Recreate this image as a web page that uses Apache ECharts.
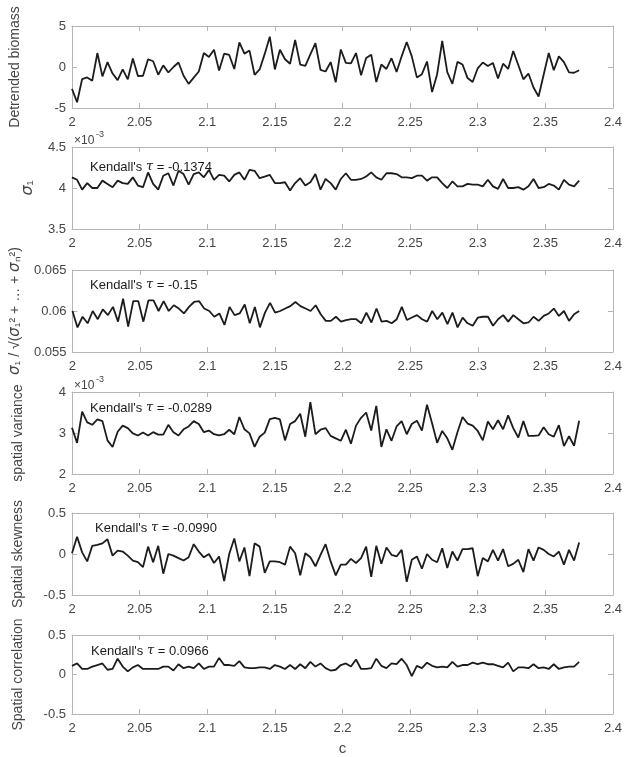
<!DOCTYPE html>
<html>
<head>
<meta charset="utf-8">
<script src="https://cdn.jsdelivr.net/npm/echarts@6/dist/echarts.min.js"></script>
<style>
html,body{margin:0;padding:0;background:#fff;}
#chart{width:625px;height:757px;}
</style>
</head>
<body>
<div id="chart"></div>
<script>
// ---- data ----
const cValues = [2,2.00375,2.0075,2.01125,2.015,2.01875,2.0225,2.02625,2.03,2.03375,
2.0375,2.04125,2.045,2.04875,2.0525,2.05625,2.06,2.06375,2.0675,2.07125,
2.075,2.07875,2.0825,2.08625,2.09,2.09375,2.0975,2.10125,2.105,2.10875,
2.1125,2.11625,2.12,2.12375,2.1275,2.13125,2.135,2.13875,2.1425,2.14625,
2.15,2.15375,2.1575,2.16125,2.165,2.16875,2.1725,2.17625,2.18,2.18375,
2.1875,2.19125,2.195,2.19875,2.2025,2.20625,2.21,2.21375,2.2175,2.22125,
2.225,2.22875,2.2325,2.23625,2.24,2.24375,2.2475,2.25125,2.255,2.25875,
2.2625,2.26625,2.27,2.27375,2.2775,2.28125,2.285,2.28875,2.2925,2.29625,
2.3,2.30375,2.3075,2.31125,2.315,2.31875,2.3225,2.32625,2.33,2.33375,
2.3375,2.34125,2.345,2.34875,2.3525,2.35625,2.36,2.36375,2.3675,2.37125,
2.375];

const detrendedBiomass = [-2.66,-4.3,-1.47,-1.27,-1.67,1.7,-1.15,0.6,-0.8,-1.6,
-0.3,-1.5,1.03,-1.1,-1.07,0.95,0.7,-0.95,0.2,-0.67,
0,0.55,-1.07,-2.06,-1.3,-0.55,1.7,1.23,2.1,-0.44,
1.63,1.47,-0.24,3.0,1.63,2.0,-0.95,-0.3,1.6,3.7,
-0.3,2.1,0.95,0.4,3.3,0.3,0.15,1.55,2.9,-0.36,
-0.55,0.6,-1.87,2.14,0.5,0.44,1.7,-1.0,1.1,1.5,
-1.83,0.3,-0.24,1.07,-0.6,1.3,3.05,1.3,-1.27,-0.87,
0.67,-3.05,-0.87,3.17,-0.63,-2.06,0.63,0.3,-1.35,-1.83,
-0.16,0.55,0.12,0.5,-1.4,0.4,-0.24,1.95,0.24,-1.5,
-0.8,-2.5,-3.6,-0.95,1.7,-0.4,1.3,0.6,-0.65,-0.7,
-0.4];

// sigma_1, in units of 1e-3
const sigma1 = [4.13,4.10,3.98,4.06,4.0,4.0,4.09,4.05,4.01,4.09,
4.06,4.05,4.13,4.03,4.01,4.19,4.05,3.98,4.15,4.18,
4.03,4.21,4.17,4.04,4.17,4.19,4.13,4.22,4.10,4.16,
4.15,4.08,4.16,4.19,4.10,4.22,4.21,4.12,4.14,4.16,
4.06,4.06,4.07,3.97,4.06,4.12,4.03,4.07,4.17,3.98,
4.11,4.06,3.98,4.11,4.18,4.10,4.10,4.11,4.14,4.19,
4.13,4.10,4.18,4.18,4.17,4.13,4.13,4.12,4.15,4.15,
4.09,4.13,4.13,4.06,4.0,4.08,4.02,4.02,4.05,4.04,
4.04,4.02,4.10,4.02,3.99,4.11,4.0,4.0,4.01,3.98,
4.02,4.11,4.0,4.01,4.05,4.03,3.98,4.10,4.04,4.02,
4.09];

const sigmaRatio = [0.0600,0.0580,0.0593,0.0585,0.0600,0.0590,0.0602,0.0595,0.0605,0.0587,
0.0615,0.0581,0.0612,0.0612,0.0587,0.0613,0.0613,0.0600,0.0612,0.0600,
0.0607,0.0603,0.0597,0.0605,0.0611,0.0612,0.0603,0.0600,0.0593,0.0597,
0.0583,0.0605,0.0595,0.0597,0.0608,0.0585,0.0605,0.0580,0.0598,0.0610,
0.0598,0.0600,0.0603,0.0606,0.0611,0.0606,0.0603,0.0600,0.0607,0.0596,
0.0588,0.0588,0.0593,0.0587,0.0589,0.0590,0.0590,0.0585,0.0598,0.0586,
0.0603,0.0587,0.0588,0.0585,0.0590,0.0605,0.0589,0.0592,0.0595,0.0590,
0.0587,0.0600,0.0590,0.0598,0.0584,0.0598,0.0580,0.0592,0.0585,0.0582,
0.0592,0.0593,0.0593,0.0582,0.0590,0.0595,0.0587,0.0595,0.0590,0.0585,
0.0586,0.0593,0.0588,0.0594,0.0597,0.0603,0.0594,0.0600,0.0588,0.0596,
0.0600];

// spatial variance, in units of 1e-3
const spatialVariance = [3.13,2.76,3.52,3.26,3.2,3.33,3.29,2.82,2.66,3.03,
3.18,3.12,2.99,2.94,3.01,2.94,3.02,2.96,2.96,3.2,
3.02,2.94,3.09,3.16,3.29,3.22,3.02,3.06,2.97,2.94,
2.97,3.08,2.97,3.39,3.09,2.99,2.66,2.91,3.01,3.34,
3.37,3.33,2.82,3.22,3.29,3.47,2.91,3.75,2.97,3.08,
3.12,2.93,2.87,2.81,3.08,2.74,3.18,3.37,3.5,3.06,
3.66,2.66,3.09,2.81,3.16,3.29,2.97,3.22,3.3,3.06,
3.69,3.24,2.76,3.05,2.87,2.59,3.02,3.39,3.23,3.18,
3.05,2.82,3.28,3.09,3.31,3.09,3.43,3.12,2.89,3.29,
2.93,2.93,2.94,3.14,2.97,2.91,3.19,2.68,2.92,2.69,
3.3];

const spatialSkewness = [0.01,0.21,0.02,-0.09,0.1,0.11,0.13,0.18,-0.02,0.04,
0.03,-0.02,-0.08,-0.1,-0.16,0.09,-0.1,0.1,-0.24,0,
-0.02,-0.05,-0.08,-0.04,0.12,0.03,-0.04,0,-0.11,-0.03,
-0.33,0,0.19,-0.09,0.08,-0.27,0.13,0.09,-0.23,-0.09,
-0.09,-0.1,-0.13,0.09,0.01,-0.26,0.01,-0.04,-0.15,-0.01,
0.12,-0.09,-0.26,-0.13,-0.13,-0.06,-0.11,-0.05,0.09,-0.28,
0.1,-0.12,0.08,-0.01,-0.03,0.05,-0.34,-0.07,-0.03,-0.18,
0,-0.07,-0.1,0.07,-0.17,0.03,-0.08,0.06,0.06,0.07,
-0.27,-0.05,-0.09,0.05,-0.08,0.06,-0.15,-0.12,-0.07,-0.22,
0.06,-0.08,0.08,0.05,0.0,-0.03,0.03,-0.13,0.05,-0.08,
0.14];

const spatialCorrelation = [0.11,0.14,0.07,0.07,0.10,0.12,0.14,0.06,0.07,0.2,
0.10,0.04,0.09,0.12,0.07,0.07,0.07,0.07,0.10,0.10,
0.05,0.13,0.08,0.10,0.08,0.14,0.07,0.10,0.10,0.21,
0.12,0.12,0.11,0.17,0.09,0.08,0.08,0.09,0.09,0.07,
0.12,0.10,0.07,0.12,0.07,0.13,0.08,0.16,0.10,0.14,
0.08,0.05,0.06,0.12,0.14,0.10,0.19,0.07,0.07,0.08,
0.20,0.11,0.08,0.14,0.13,0.2,0.12,-0.02,0.11,0.08,
0.15,0.11,0.09,0.10,0.09,0.16,0.10,0.12,0.12,0.15,
0.13,0.15,0.13,0.13,0.11,0.09,0.15,0.04,0.09,0.09,
0.08,0.13,0.08,0.09,0.07,0.13,0.07,0.09,0.10,0.10,
0.16];

const yLabels = ['Detrended biomass', '{i|σ}₁', '{i|σ}₁ / √({i|σ}₁² + … + {i|σ}ₙ²)', 'spatial variance', 'Spatial skewness', 'Spatial correlation'];
const yMins = [-5, 3.5, 0.055, 2, -0.5, -0.5];
const yMaxs = [5, 4.5, 0.065, 4, 0.5, 0.5];
const yIntervals = [5, 0.5, 0.005, 1, 0.5, 0.5];
const kendallTau = [null, '-0.1374', '-0.15', '-0.0289', '-0.0990', '0.0966'];
const exponentPanels = [false, true, false, true, false, false];
const xTickMin = 2, xTickMax = 2.4, xTickStep = 0.05;
const xName = 'c';

// ---- layout ----
const FONT = 'Liberation Sans, Arial, Helvetica, sans-serif';
const L = 72, W = 542, H = 82;
const tops = [26, 147, 270, 392, 513, 635];
const nameGaps = [50, 36, 44, 47, 47, 47];
const nameSizes = [14, 15, 14, 14, 14, 14];
const kendallPos = [null, [90, 167], [90, 285], [90, 408], [95, 528], [91, 651]];
const seriesData = [detrendedBiomass, sigma1, sigmaRatio, spatialVariance, spatialSkewness, spatialCorrelation];

const AX = '#b5b5b5', LBL = '#454545';
const fmtNum = v => String(parseFloat(Number(v).toFixed(4)));

const grid = [], xAxis = [], yAxis = [], series = [], graphic = [];
for (let p = 0; p < 6; p++) {
  grid.push({left: L, top: tops[p], width: W, height: H});
  const axBase = {
    type: 'value', gridIndex: p, min: xTickMin, max: xTickMax, interval: xTickStep,
    axisLine: {show: true, onZero: false, lineStyle: {color: AX, width: 1}},
    axisTick: {show: true, inside: true, length: 5, lineStyle: {color: AX}},
    splitLine: {show: false}
  };
  xAxis.push(Object.assign({}, axBase, {
    position: 'bottom',
    axisLabel: {show: true, margin: 8, color: LBL, fontSize: 13, fontFamily: FONT, formatter: fmtNum},
    name: p === 5 ? xName : '', nameLocation: 'middle', nameGap: 27,
    nameTextStyle: {color: LBL, fontSize: 15, fontFamily: FONT}
  }));
  xAxis.push(Object.assign({}, axBase, {position: 'top', axisLabel: {show: false}}));
  const yBase = {
    type: 'value', gridIndex: p, min: yMins[p], max: yMaxs[p], interval: yIntervals[p],
    axisLine: {show: true, onZero: false, lineStyle: {color: AX, width: 1}},
    axisTick: {show: true, inside: true, length: 5, lineStyle: {color: AX}},
    splitLine: {show: false}
  };
  yAxis.push(Object.assign({}, yBase, {
    position: 'left',
    axisLabel: {show: true, margin: 6, color: LBL, fontSize: 13, fontFamily: FONT, formatter: fmtNum},
    name: yLabels[p], nameLocation: 'middle', nameRotate: 90, nameGap: nameGaps[p],
    nameTextStyle: {color: LBL, fontSize: nameSizes[p], fontFamily: FONT,
      rich: {i: {fontStyle: 'italic', fontSize: nameSizes[p] + 1, fontFamily: 'DejaVu Sans, sans-serif', color: LBL}}}
  }));
  yAxis.push(Object.assign({}, yBase, {position: 'right', axisLabel: {show: false}}));
  series.push({
    type: 'line', xAxisIndex: 2 * p, yAxisIndex: 2 * p,
    data: cValues.map((c, i) => [c, seriesData[p][i]]),
    showSymbol: false, symbol: 'none',
    lineStyle: {color: '#1c1c1c', width: 1.8}, animation: false
  });
  if (kendallTau[p] !== null) {
    graphic.push({
      type: 'text', x: kendallPos[p][0], y: kendallPos[p][1],
      style: {
        text: "Kendall's {t|τ} = " + kendallTau[p],
        font: '13px ' + FONT, fill: '#1a1a1a', verticalAlign: 'middle',
        rich: {t: {fontFamily: 'DejaVu Serif, serif', fontStyle: 'italic', fontSize: 13, fill: '#1a1a1a'}}
      }
    });
  }
  if (exponentPanels[p]) {
    graphic.push({type: 'text', x: L + 2, y: tops[p] - 12, style: {text: '×10', font: '12px ' + FONT, fill: LBL}});
    graphic.push({type: 'text', x: L + 24, y: tops[p] - 17, style: {text: '-3', font: '9px ' + FONT, fill: LBL}});
  }
}

const chart = echarts.init(document.getElementById('chart'), null, {renderer: 'canvas'});
chart.setOption({
  animation: false,
  backgroundColor: '#ffffff',
  grid, xAxis, yAxis, series, graphic
});
</script>
</body>
</html>
